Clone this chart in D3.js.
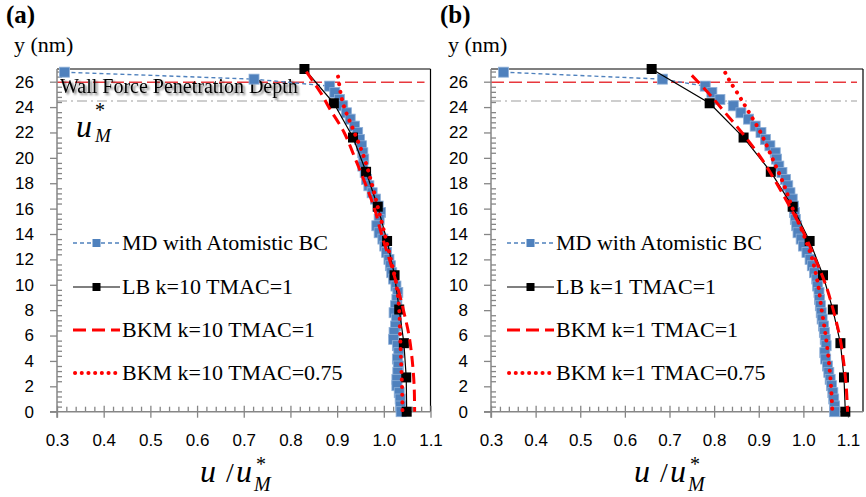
<!DOCTYPE html>
<html>
<head>
<meta charset="utf-8">
<script src="https://cdn.jsdelivr.net/npm/d3@7"></script>
<style>
body { margin: 0; background: #fff; }
svg { display: block; }
</style>
</head>
<body>
<svg id="chart" width="866" height="497"></svg>
<script>
// ---- data ----
const xTicks = [0.3, 0.4, 0.5, 0.6, 0.7, 0.8, 0.9, 1.0, 1.1];
const yTicks = [0, 2, 4, 6, 8, 10, 12, 14, 16, 18, 20, 22, 24, 26];

// MD with atomistic BC (same bins in both panels)
const mdY = [26.75, 26.2, 25.65, 25.15, 24.6, 24.1, 23.55, 23.05, 22.5, 22.0,
  21.45, 20.95, 20.4, 19.9, 19.35, 18.85, 18.3, 17.8, 17.25, 16.75,
  16.2, 15.7, 15.15, 14.65, 14.1, 13.6, 13.05, 12.55, 12.0, 11.5,
  10.95, 10.45, 9.9, 9.4, 8.85, 8.35, 7.8, 7.3, 6.75, 6.25,
  5.7, 5.2, 4.65, 4.15, 3.6, 3.1, 2.55, 2.05, 1.5, 1.0, 0.45, 0.0];
const mdXa = [0.316, 0.722, 0.884, 0.895, 0.905, 0.912, 0.92, 0.928, 0.937, 0.944,
  0.948, 0.952, 0.955, 0.957, 0.955, 0.96, 0.963, 0.968, 0.975, 0.982,
  0.988, 0.993, 0.99, 0.985, 0.99, 0.998, 1.002, 1.006, 1.011, 1.014,
  1.017, 1.021, 1.026, 1.03, 1.028, 1.025, 1.022, 1.027, 1.025, 1.022,
  1.021, 1.029, 1.032, 1.029, 1.031, 1.03, 1.028, 1.028, 1.033, 1.035, 1.036, 1.037];
const mdXb = [0.328, 0.684, 0.78, 0.795, 0.813, 0.843, 0.86, 0.877, 0.892, 0.905,
  0.915, 0.925, 0.937, 0.94, 0.945, 0.952, 0.96, 0.965, 0.97, 0.975,
  0.978, 0.98, 0.982, 0.985, 0.988, 0.995, 1.0, 1.008, 1.015, 1.02,
  1.025, 1.03, 1.032, 1.035, 1.036, 1.038, 1.04, 1.042, 1.045, 1.047,
  1.049, 1.051, 1.048, 1.05, 1.054, 1.057, 1.06, 1.063, 1.066, 1.068, 1.07, 1.07];

// LB
const lbY = [27, 24.3, 21.6, 18.9, 16.15, 13.45, 10.75, 8.05, 5.4, 2.7, 0];
const lbXa = [0.83, 0.893, 0.934, 0.962, 0.987, 1.007, 1.023, 1.033, 1.043, 1.048, 1.049];
const lbXb = [0.66, 0.79, 0.866, 0.927, 0.976, 1.014, 1.044, 1.066, 1.083, 1.091, 1.094];

// BKM TMAC=1
const bkmYa = [26.8, 25, 24, 22, 20, 18, 16, 14, 12, 10, 8, 6, 4, 2, 0];
const bkmXa = [0.834, 0.867, 0.882, 0.915, 0.938, 0.96, 0.98, 0.995, 1.012, 1.028, 1.042, 1.054, 1.061, 1.065, 1.066];
const bkmYb = [26.5, 25, 24, 22, 20, 18, 16, 14, 12, 10, 8, 6, 4, 2, 0];
const bkmXb = [0.75, 0.79, 0.814, 0.862, 0.905, 0.94, 0.972, 1.002, 1.027, 1.05, 1.067, 1.081, 1.09, 1.096, 1.099];

// BKM TMAC=0.75
const bkm75Ya = [26.4, 25, 24, 22, 20, 18, 16, 14, 12, 10, 8, 6, 4, 2, 0];
const bkm75Xa = [0.902, 0.908, 0.915, 0.937, 0.958, 0.974, 0.988, 1.002, 1.015, 1.027, 1.033, 1.035, 1.037, 1.039, 1.04];
const bkm75Yb = [26.7, 26, 25, 24, 22, 20, 18, 16, 14, 12, 10, 8, 6, 4, 2, 0];
const bkm75Xb = [0.825, 0.836, 0.854, 0.871, 0.904, 0.93, 0.955, 0.976, 1.0, 1.02, 1.033, 1.041, 1.05, 1.057, 1.062, 1.065];

const legendA = ["MD with Atomistic BC", "LB k=10 TMAC=1", "BKM k=10 TMAC=1", "BKM k=10 TMAC=0.75"];
const legendB = ["MD with Atomistic BC", "LB k=1 TMAC=1", "BKM k=1 TMAC=1", "BKM k=1 TMAC=0.75"];

const penetrationY = 25.95;
const umY = 24.48;

// ---- drawing ----
var svg = d3.select("#chart");
var serif = "'Liberation Serif', 'Times New Roman', serif";
var sans = "'Liberation Sans', Arial, sans-serif";
var blue = "#4F81BD";

var defs = svg.append("defs");
var f = defs.append("filter").attr("id", "shadow").attr("x", "-5%").attr("y", "-30%").attr("width", "115%").attr("height", "180%");
f.append("feGaussianBlur").attr("in", "SourceAlpha").attr("stdDeviation", 1.3).attr("result", "b");
f.append("feOffset").attr("in", "b").attr("dx", 2).attr("dy", 2).attr("result", "o");
f.append("feComponentTransfer").attr("in", "o").attr("result", "s")
  .append("feFuncA").attr("type", "linear").attr("slope", 0.55);
var fm = f.append("feMerge");
fm.append("feMergeNode").attr("in", "s");
fm.append("feMergeNode").attr("in", "SourceGraphic");

var y = d3.scaleLinear().domain([0, 27]).range([411.7, 69]);

var panels = [
  { tag: "(a)", ox: 0, left: 57, right: 430.5, frame: 430.5,
    md: mdXa, lb: lbXa, bY: bkmYa, bX: bkmXa, b75Y: bkm75Ya, b75X: bkm75Xa, legend: legendA, note: true },
  { tag: "(b)", ox: 434, left: 491, right: 848, frame: 863,
    md: mdXb, lb: lbXb, bY: bkmYb, bX: bkmXb, b75Y: bkm75Yb, b75X: bkm75Xb, legend: legendB, note: false }
];

panels.forEach(drawPanel);

function drawPanel(p) {
  var g = svg.append("g");
  var x = d3.scaleLinear().domain([0.3, 1.1]).range([p.left, p.right]);
  var x0 = p.left, y0 = y(0), yTop = y(27);

  // frame (top and right in black)
  g.append("line").attr("x1", x0).attr("x2", p.frame).attr("y1", yTop).attr("y2", yTop)
    .attr("stroke", "#000").attr("stroke-width", 1.2);
  g.append("line").attr("x1", p.frame).attr("x2", p.frame).attr("y1", yTop).attr("y2", y0)
    .attr("stroke", "#000").attr("stroke-width", 1.2);

  // reference lines
  g.append("line").attr("x1", x0).attr("x2", p.frame - 6).attr("y1", y(penetrationY)).attr("y2", y(penetrationY))
    .attr("stroke", "#E8383D").attr("stroke-width", 1.5).attr("stroke-dasharray", "13,5");
  g.append("line").attr("x1", x0).attr("x2", p.frame - 6).attr("y1", y(umY)).attr("y2", y(umY))
    .attr("stroke", "#BFBFBF").attr("stroke-width", 1.5).attr("stroke-dasharray", "10,4,2,4");

  // y axis
  var minorY = d3.range(0.4, 27, 0.4).filter(v => Math.abs(v / 2 - Math.round(v / 2)) > 0.01);
  var yMinor = g.append("g").attr("transform", `translate(${x0},0)`)
    .call(d3.axisRight(y).tickValues(minorY).tickSize(5).tickFormat(""));
  var yAx = g.append("g").attr("transform", `translate(${x0},0)`)
    .call(d3.axisLeft(y).tickValues(yTicks).tickSize(7).tickPadding(16).tickSizeOuter(0));
  [yMinor, yAx].forEach(a => {
    a.selectAll("line").attr("stroke", "#868686").attr("stroke-width", 1.3);
    a.select(".domain").remove();
  });
  yAx.selectAll("text").attr("font-family", sans).attr("font-size", 17).attr("fill", "#000");
  g.append("line").attr("x1", x0).attr("x2", x0).attr("y1", yTop).attr("y2", y0 + 6)
    .attr("stroke", "#868686").attr("stroke-width", 1.5);

  // x axis
  var minorX = d3.range(0.32, 1.1, 0.02).filter(v => Math.abs(v * 10 - Math.round(v * 10)) > 0.01);
  var xMinor = g.append("g").attr("transform", `translate(0,${y0})`)
    .call(d3.axisTop(x).tickValues(minorX).tickSize(5).tickFormat(""));
  var xUp = g.append("g").attr("transform", `translate(0,${y0})`)
    .call(d3.axisTop(x).tickValues(xTicks).tickSize(6).tickFormat(""));
  var xAx = g.append("g").attr("transform", `translate(0,${y0})`)
    .call(d3.axisBottom(x).tickValues(xTicks).tickSize(6).tickPadding(16).tickFormat(d3.format(".1f")));
  [xMinor, xUp, xAx].forEach(a => {
    a.selectAll("line").attr("stroke", "#868686").attr("stroke-width", 1.3);
    a.select(".domain").remove();
  });
  xAx.selectAll("text").attr("font-family", sans).attr("font-size", 17).attr("fill", "#000");
  g.append("line").attr("x1", x0 - 7).attr("x2", p.frame).attr("y1", y0).attr("y2", y0)
    .attr("stroke", "#868686").attr("stroke-width", 1.5);

  // labels
  g.append("text").attr("x", p.ox + 6).attr("y", 23).attr("font-family", serif)
    .attr("font-weight", "bold").attr("font-size", 25).text(p.tag);
  g.append("text").attr("x", p.ox + 14).attr("y", 52).attr("font-family", serif)
    .attr("font-size", 22).text("y (nm)");

  // x axis title: u / u*_M
  var tx = p.ox + 200;
  g.append("text").attr("x", tx).attr("y", 482).attr("font-family", serif).attr("font-style", "italic")
    .attr("font-size", 32).text("u");
  g.append("text").attr("x", tx + 26).attr("y", 482).attr("font-family", serif)
    .attr("font-size", 28).text("/");
  g.append("text").attr("x", tx + 36).attr("y", 482).attr("font-family", serif).attr("font-style", "italic")
    .attr("font-size", 32).text("u");
  g.append("text").attr("x", tx + 54).attr("y", 491).attr("font-family", serif).attr("font-style", "italic")
    .attr("font-size", 20).text("M");
  g.append("text").attr("x", tx + 61).attr("y", 471).attr("font-family", serif).attr("text-anchor", "middle")
    .attr("font-size", 20).text("*");

  if (p.note) {
    g.append("text").attr("x", 60).attr("y", 93).attr("font-family", serif).attr("font-size", 20)
      .attr("filter", "url(#shadow)").text("Wall Force Penetration Depth");
    g.append("text").attr("x", 76).attr("y", 137).attr("font-family", serif).attr("font-style", "italic")
      .attr("font-size", 32).text("u");
    g.append("text").attr("x", 95).attr("y", 142).attr("font-family", serif).attr("font-style", "italic")
      .attr("font-size", 19).text("M");
    g.append("text").attr("x", 100).attr("y", 117).attr("font-family", serif).attr("text-anchor", "middle")
      .attr("font-size", 20).text("*");
  }

  // series
  var md = mdY.map((v, i) => [p.md[i], v]);
  var lb = lbY.map((v, i) => [p.lb[i], v]);
  var b1 = p.bY.map((v, i) => [p.bX[i], v]);
  var b2 = p.b75Y.map((v, i) => [p.b75X[i], v]);

  var line = d3.line().x(d => x(d[0])).y(d => y(d[1]));
  var smooth = d3.line().x(d => x(d[0])).y(d => y(d[1])).curve(d3.curveCatmullRom.alpha(0.5));

  g.append("path").attr("d", line(md)).attr("fill", "none").attr("stroke", blue)
    .attr("stroke-width", 1.4).attr("stroke-dasharray", "4,3");
  g.selectAll(".md").data(md).join("rect").attr("class", "md")
    .attr("x", d => x(d[0]) - 5).attr("y", d => y(d[1]) - 5).attr("width", 10).attr("height", 10)
    .attr("fill", blue).attr("stroke", "#8FB0D8").attr("stroke-width", 0.8);

  g.append("path").attr("d", line(lb)).attr("fill", "none").attr("stroke", "#000").attr("stroke-width", 1.2);
  g.selectAll(".lb").data(lb).join("rect").attr("class", "lb")
    .attr("x", d => x(d[0]) - 5).attr("y", d => y(d[1]) - 5).attr("width", 10).attr("height", 10)
    .attr("fill", "#000");

  g.append("path").attr("d", smooth(b1)).attr("fill", "none").attr("stroke", "#FF0000")
    .attr("stroke-width", 3).attr("stroke-dasharray", "11,6");
  g.append("path").attr("d", smooth(b2)).attr("fill", "none").attr("stroke", "#FF0000")
    .attr("stroke-width", 4).attr("stroke-linecap", "round").attr("stroke-dasharray", "0.1,7.5");

  // legend
  var lx0 = p.ox + 73, lx1 = p.ox + 120;
  var ly = [243, 287, 330, 373];
  var lg = g.append("g");
  lg.append("line").attr("x1", lx0).attr("x2", lx1).attr("y1", ly[0]).attr("y2", ly[0])
    .attr("stroke", blue).attr("stroke-width", 1.4).attr("stroke-dasharray", "4,3");
  lg.append("rect").attr("x", (lx0 + lx1) / 2 - 4).attr("y", ly[0] - 4).attr("width", 8).attr("height", 8).attr("fill", blue);
  lg.append("line").attr("x1", lx0).attr("x2", lx1).attr("y1", ly[1]).attr("y2", ly[1])
    .attr("stroke", "#000").attr("stroke-width", 1.2);
  lg.append("rect").attr("x", (lx0 + lx1) / 2 - 4).attr("y", ly[1] - 4).attr("width", 8).attr("height", 8).attr("fill", "#000");
  lg.append("line").attr("x1", lx0).attr("x2", lx1).attr("y1", ly[2]).attr("y2", ly[2])
    .attr("stroke", "#FF0000").attr("stroke-width", 3).attr("stroke-dasharray", "13,6");
  lg.append("line").attr("x1", lx0 + 2).attr("x2", lx1).attr("y1", ly[3]).attr("y2", ly[3])
    .attr("stroke", "#FF0000").attr("stroke-width", 4).attr("stroke-linecap", "round").attr("stroke-dasharray", "0.1,6.6");
  lg.selectAll("text").data(p.legend).join("text")
    .attr("x", lx1 + 2).attr("y", (d, i) => ly[i] + 7)
    .attr("font-family", serif).attr("font-size", 22).text(d => d);
}
</script>
</body>
</html>
